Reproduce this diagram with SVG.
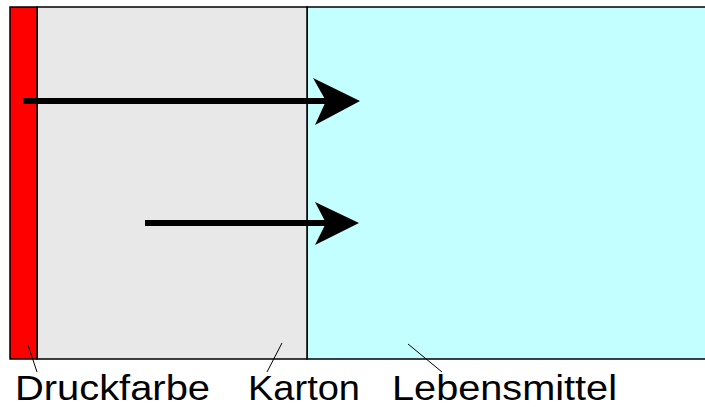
<svg xmlns="http://www.w3.org/2000/svg" width="705" height="407" viewBox="0 0 705 407">
<style>
.lbl{font-family:"Liberation Sans",Arial,sans-serif;font-size:35px;fill:#000}
.ptr{stroke:#000;stroke-width:1;fill:none}
.shaft{stroke:#000;stroke-width:6;fill:none}
.head{fill:#000}
</style>
<rect width="705" height="407" fill="#fff"/>
<g id="lebensmittel"><rect x="307" y="7" width="400" height="352" fill="#c4ffff" stroke="#000" stroke-width="1.5"/></g>
<g id="karton"><rect x="37" y="7" width="270" height="352" fill="#e8e8e8" stroke="#000" stroke-width="1.5"/></g>
<g id="druckfarbe"><rect x="10" y="7" width="27" height="352" fill="#ff0000" stroke="#000" stroke-width="1.5"/></g>
<g id="connectors">
<line class="shaft" x1="23" y1="101" x2="326" y2="101"/>
<polygon class="head" points="313,78 360,101 315,125 326,101"/>
<line class="shaft" x1="145" y1="223" x2="326" y2="223"/>
<polygon class="head" points="315,202 359,223 315,245 326,223"/>
<line class="ptr" x1="28" y1="345" x2="37" y2="372"/>
<line class="ptr" x1="282" y1="343" x2="267" y2="372"/>
<line class="ptr" x1="408" y1="344" x2="442" y2="372"/>
</g>
<g id="labels">
<text class="lbl" x="15" y="400" textLength="195" lengthAdjust="spacingAndGlyphs">Druckfarbe</text>
<text class="lbl" x="248" y="400" textLength="112" lengthAdjust="spacingAndGlyphs">Karton</text>
<text class="lbl" x="392" y="400" textLength="225" lengthAdjust="spacingAndGlyphs">Lebensmittel</text>
</g>
</svg>
